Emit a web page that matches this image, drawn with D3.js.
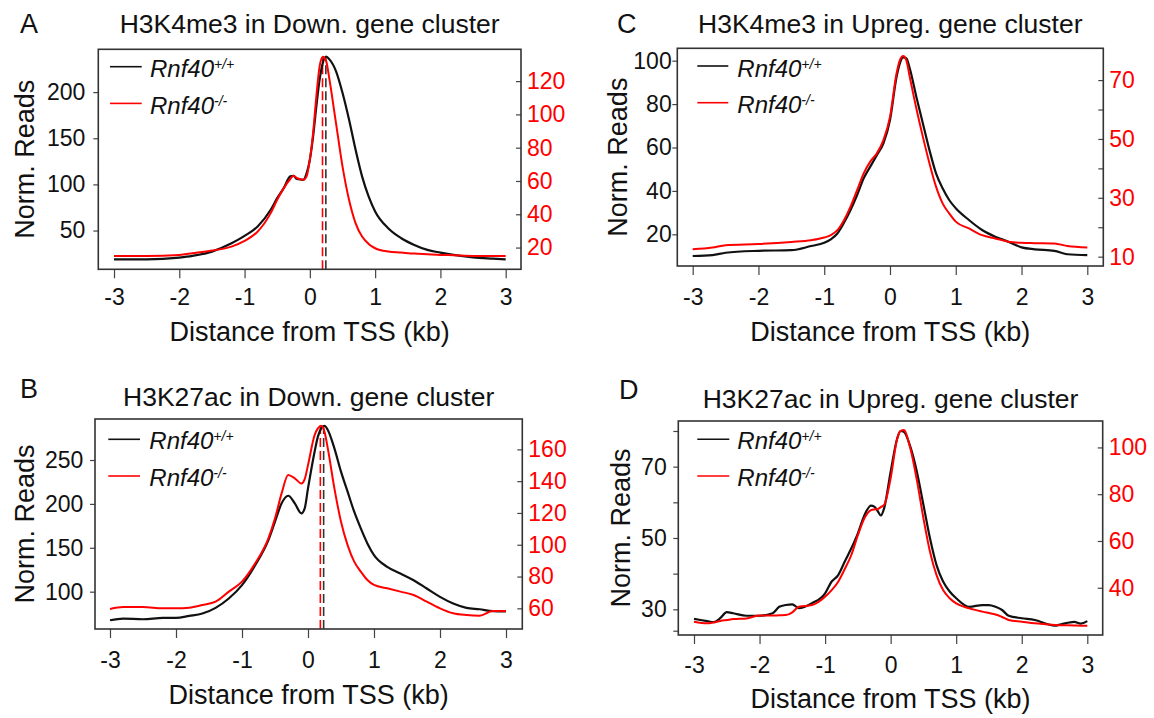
<!DOCTYPE html>
<html>
<head>
<meta charset="utf-8">
<script src="https://cdn.jsdelivr.net/npm/d3@7"></script>
<style>
  html, body { margin: 0; padding: 0; background: #fff; }
  svg { display: block; font-family: "Liberation Sans", Arial, Helvetica, sans-serif; }
</style>
</head>
<body>
<script>
// Perfiles ChIP-seq alrededor del TSS
// negro = Rnf40+/+ (eje izquierdo), rojo = Rnf40-/- (eje derecho)

const xTicks = [-3, -2, -1, 0, 1, 2, 3];

// --- A: H3K4me3, Down ---
const xA = [-3,-2.5,-2,-1.8,-1.5,-1.2,-1,-0.8,-0.6,-0.5,-0.4,-0.3,-0.25,-0.2,-0.1,-0.05,0,0.05,0.1,0.15,0.2,0.25,0.3,0.4,0.5,0.6,0.7,0.8,0.9,1,1.2,1.4,1.6,1.8,2,2.2,2.5,2.8,3];
const blackA = [18.8,18.8,20.7,22.5,27.2,36.2,44.2,54.3,72.5,85.1,96,108.7,109.4,105.8,105,112,126.8,152,184.8,213.8,232,238.4,235.5,222.8,199.3,170.3,137.7,108.7,87,70.7,52.5,41.7,34.4,29,26.1,23.6,21,19.6,18.8];
const redA = [15,15,15.6,16.6,18.2,20.6,24,29.6,40.7,48.7,55.7,61.2,63.2,61.8,60.8,62.8,72.8,88.9,111,129,134.7,132,121,94.9,68.8,48.7,34.7,26.6,22.2,19.6,17.6,17,16.4,16,15.6,15.4,15,15,15];
const leftTicksA = [50, 100, 150, 200];
const rightTicksA = [20, 40, 60, 80, 100, 120];
const dashA = [0.245, 0.194]; // negro, rojo

// --- B: H3K27ac, Down ---
const xB = [-3,-2.8,-2.5,-2.2,-2,-1.8,-1.6,-1.4,-1.2,-1,-0.8,-0.6,-0.5,-0.4,-0.3,-0.2,-0.1,-0.05,0,0.1,0.15,0.2,0.25,0.3,0.4,0.5,0.6,0.7,0.8,0.9,1,1.2,1.4,1.6,1.8,2,2.2,2.4,2.6,2.8,3];
const blackB = [67.5,69.4,68.6,70.2,70.2,72.4,75.1,81.6,92.2,107.4,130.2,158.7,179.7,200.6,209.3,200.6,189.2,194.9,217.7,259.5,276.6,286,289,284.2,263.3,236.7,213.9,191.1,172.1,155,141.6,128.3,120.7,113.1,103.6,94.1,86.5,81.6,80,77.8,77.5];
const redB = [59.6,60.8,60.8,60,60,60.4,62.1,64.2,70.5,76.8,88.3,104,116.6,132.3,143.9,141.8,138.6,141.3,150.1,169,173.2,174.9,171.1,160.6,135.5,114.5,99.8,89.4,83.1,77.8,74.7,72.6,70.5,68.4,64.2,60,56.9,55.8,55.4,58.3,58.3];
const leftTicksB = [100, 150, 200, 250];
const rightTicksB = [60, 80, 100, 120, 140, 160];
const dashB = [0.237, 0.187];

// --- C: H3K4me3, Upreg ---
const xC = [-3,-2.7,-2.5,-2,-1.5,-1.2,-1,-0.9,-0.8,-0.7,-0.6,-0.5,-0.4,-0.3,-0.2,-0.1,0,0.1,0.15,0.2,0.25,0.3,0.4,0.5,0.6,0.7,0.8,0.9,1,1.2,1.4,1.6,1.8,2,2.2,2.5,2.7,3];
const blackC = [10,10.4,11.5,12.4,12.7,14.6,16.1,17.7,20.4,25.3,31.2,38.1,45.8,51.2,56.5,61.9,72.7,92.6,98.8,101.5,101,96.5,83.4,71.1,58.8,48.1,41.2,35.8,32,26.6,22,18.9,16.6,14,13.1,12.4,10.8,10.4];
const redC = [12.5,13.1,13.9,14.3,15,15.6,16.5,17.3,19,22.4,27,32.6,38.3,42.3,45.1,49.6,57.5,72.3,76.8,78.2,76.6,71.1,60.4,50.7,41.7,33.8,28.1,24.7,21.9,19.6,17.3,16.2,15.1,14.7,14.6,14.5,13.6,13.1];
const leftTicksC = [20, 40, 60, 80, 100];
const rightTicksC = [10, 20, 30, 40, 50, 60, 70];
const rightLabelsC = [10, 30, 50, 70];

// --- D: H3K27ac, Upreg ---
const xD = [-3,-2.8,-2.7,-2.6,-2.5,-2.4,-2.2,-2,-1.8,-1.7,-1.6,-1.5,-1.4,-1.2,-1,-0.9,-0.8,-0.7,-0.6,-0.5,-0.4,-0.3,-0.25,-0.2,-0.15,-0.1,0,0.1,0.15,0.2,0.3,0.4,0.5,0.6,0.7,0.8,0.9,1,1.2,1.4,1.5,1.6,1.7,1.8,2,2.2,2.4,2.5,2.6,2.8,2.9,3];
const blackD = [27.3,26.7,26.4,27.5,29.2,28.9,28.2,28.2,28.9,30.7,31.2,31.4,30.3,31.7,34.5,37.8,39.6,43.4,47.1,51.3,56.4,59.1,58.8,57.6,56.3,58.3,68.6,77.9,80,79.8,75.6,68.6,59.3,49.9,42.4,37.8,35,33.1,30.7,31.2,31.2,30.7,29.8,28.2,27.5,27,25.8,25.4,25.8,26.5,26,26.7];
const redD = [25.5,24.8,25.2,25.8,26.2,26.6,26.9,28.1,28.1,28.2,28.3,29.5,31.9,32.6,36.2,39,42.6,48,54,62.5,69.7,73.2,73.5,73.6,74.5,75.4,86.8,103.8,107,107.4,99.6,86,69.7,55.4,45.4,39,35.5,33.3,31.2,29.8,29.2,28.6,27.5,26.2,25.5,24.8,24.3,24.1,24,23.9,23.8,23.8];
const leftTicksD = [24, 30, 40, 50, 60, 70, 80];
const leftLabelsD = [30, 50, 70];
const rightTicksD = [40, 60, 80, 100];

const BLACK = "#111", RED = "#ff0000";
const TICK_FS = 23;

// layout (px) de cada panel
const panels = [
  { tag: "A", title: "H3K4me3 in Down. gene cluster", xs: xA, black: blackA, red: redA, dash: dashA,
    lt: leftTicksA, rt: rightTicksA,
    box: [98.3, 521, 49.3, 269.3], xr: [114, 505.7], yl: [8, 246.4], yr: [6.95, 139.1],
    tagX: 20, base: 32.7, ylabX: 34, tickY: 305, xlabY: 341, lgap: 13, leg: [11.7, 43.4, 17.4, 51.7, 27.7] },
  { tag: "B", title: "H3K27ac in Down. gene cluster", xs: xB, black: blackB, red: redB, dash: dashB,
    lt: leftTicksB, rt: rightTicksB,
    box: [95, 522.3, 419, 629], xr: [110, 506], yl: [57.5, 296.7], yr: [47, 179.1],
    tagX: 20, tagBase: 398, base: 406, ylabX: 34, tickY: 668, xlabY: 704, lgap: 11.7, leg: [13.3, 45, 20.3, 54.3, 30.3] },
  { tag: "C", title: "H3K4me3 in Upreg. gene cluster", xs: xC, black: blackC, red: redC, dash: null,
    lt: leftTicksC, rt: rightTicksC, rl: rightLabelsC,
    box: [677.3, 1103.3, 48.3, 266], xr: [692.7, 1087.3], yl: [5.4, 105.7], yr: [6.83, 80.8],
    tagX: 617, base: 33, ylabX: 627, tickY: 305, xlabY: 341, lgap: 5.6, leg: [20, 51, 17.7, 60, 28.4] },
  { tag: "D", title: "H3K27ac in Upreg. gene cluster", xs: xD, black: blackD, red: redD, dash: null,
    lt: leftTicksD, ll: leftLabelsD, rt: rightTicksD,
    box: [678.3, 1102.7, 421, 635], xr: [694, 1087.3], yl: [22.8, 82.8], yr: [19.8, 111.3],
    tagX: 619, tagBase: 399, base: 408, ylabX: 630, tickY: 673, xlabY: 708, lgap: 11.6, leg: [19, 51, 18.3, 59, 28.3] }
];

const svg = d3.select("body").append("svg")
  .attr("width", 1154).attr("height", 718);

panels.forEach(drawPanel);

function drawPanel(p){
  const [x0, x1, y0, y1] = p.box;
  const g = svg.append("g").attr("class", "panel-" + p.tag);

  const x  = d3.scaleLinear().domain([-3, 3]).range(p.xr);
  const yL = d3.scaleLinear().domain(p.yl).range([y1, y0]);
  const yR = d3.scaleLinear().domain(p.yr).range([y1, y0]);

  // letra del panel y título
  g.append("text")
    .attr("x", p.tagX).attr("y", p.tagBase || p.base)
    .attr("font-size", 27).attr("fill", "#111")
    .text(p.tag);

  g.append("text")
    .attr("x", (x0 + x1) / 2).attr("y", p.base)
    .attr("text-anchor", "middle")
    .attr("font-size", 26.5).attr("fill", "#111")
    .text(p.title);

  // eje x
  const ax = g.append("g")
    .attr("transform", `translate(0,${y1})`)
    .call(d3.axisBottom(x).tickValues(xTicks).tickSize(9).tickFormat(d => String(d)));
  ax.select(".domain").remove();
  ax.selectAll("line").attr("stroke", "#444").attr("stroke-width", 1.2);
  ax.selectAll("text")
    .attr("y", p.tickY - y1).attr("dy", 0)
    .attr("font-size", TICK_FS).attr("fill", "#111")
    .attr("font-family", null);

  // eje izquierdo (negro)
  const al = g.append("g")
    .attr("transform", `translate(${x0},0)`)
    .call(d3.axisLeft(yL).tickValues(p.lt).tickSize(5).tickPadding(p.lgap - 5)
      .tickFormat(d => (!p.ll || p.ll.includes(d)) ? String(d) : ""));
  al.select(".domain").remove();
  al.selectAll("line").attr("stroke", "#444").attr("stroke-width", 1.2);
  al.selectAll("text").attr("font-size", TICK_FS).attr("fill", "#111").attr("font-family", null);

  // eje derecho (rojo)
  const ar = g.append("g")
    .attr("transform", `translate(${x1 - 5},0)`)
    .call(d3.axisRight(yR).tickValues(p.rt).tickSize(5).tickPadding(6)
      .tickFormat(d => (!p.rl || p.rl.includes(d)) ? String(d) : ""));
  ar.select(".domain").remove();
  ar.selectAll("line").attr("stroke", "#444").attr("stroke-width", 1.2);
  ar.selectAll("text").attr("font-size", TICK_FS).attr("fill", RED).attr("font-family", null);

  // títulos de ejes
  g.append("text")
    .attr("x", (x0 + x1) / 2).attr("y", p.xlabY)
    .attr("text-anchor", "middle")
    .attr("font-size", 27).attr("fill", "#111")
    .text("Distance from TSS (kb)");

  g.append("text")
    .attr("transform", `translate(${p.ylabX},${(y0 + y1) / 2}) rotate(-90)`)
    .attr("text-anchor", "middle")
    .attr("font-size", 27).attr("fill", "#111")
    .text("Norm. Reads");

  // curvas
  const rowsB = p.xs.map((k, i) => [k, p.black[i]]);
  const rowsR = p.xs.map((k, i) => [k, p.red[i]]);
  const lineL = d3.line().x(d => x(d[0])).y(d => yL(d[1])).curve(d3.curveMonotoneX);
  const lineR = d3.line().x(d => x(d[0])).y(d => yR(d[1])).curve(d3.curveMonotoneX);

  // líneas verticales discontinuas en el pico
  if (p.dash){
    g.append("line")
      .attr("x1", x(p.dash[1])).attr("x2", x(p.dash[1]))
      .attr("y1", y1).attr("y2", yR(d3.max(p.red)))
      .attr("stroke", RED).attr("stroke-width", 1.6).attr("stroke-dasharray", "9,4");
    g.append("line")
      .attr("x1", x(p.dash[0])).attr("x2", x(p.dash[0]))
      .attr("y1", y1).attr("y2", yL(d3.max(p.black)))
      .attr("stroke", "#333").attr("stroke-width", 1.6).attr("stroke-dasharray", "9,4");
  }

  g.append("path").datum(rowsB)
    .attr("d", lineL).attr("fill", "none")
    .attr("stroke", BLACK).attr("stroke-width", 2.2).attr("stroke-linejoin", "round");

  g.append("path").datum(rowsR)
    .attr("d", lineR).attr("fill", "none")
    .attr("stroke", RED).attr("stroke-width", 2).attr("stroke-linejoin", "round");

  // caja
  g.append("rect")
    .attr("x", x0).attr("y", y0)
    .attr("width", x1 - x0).attr("height", y1 - y0)
    .attr("fill", "none").attr("stroke", "#333").attr("stroke-width", 1.6);

  // leyenda
  const [lx0, lx1, ly, tx, tb] = p.leg;
  const step = 36.7;
  const items = [
    { color: BLACK, sup: "+/+" },
    { color: RED,   sup: "-/-" }
  ];
  items.forEach((it, i) => {
    g.append("line")
      .attr("x1", x0 + lx0).attr("x2", x0 + lx1)
      .attr("y1", y0 + ly + i * step).attr("y2", y0 + ly + i * step)
      .attr("stroke", it.color).attr("stroke-width", 1.6);
    const t = g.append("text")
      .attr("x", x0 + tx).attr("y", y0 + tb + i * step)
      .attr("font-size", 24).attr("font-style", "italic").attr("fill", "#111");
    t.append("tspan").text("Rnf40");
    t.append("tspan").attr("font-size", 14).attr("dy", -8).text(it.sup);
  });
}
</script>
</body>
</html>
